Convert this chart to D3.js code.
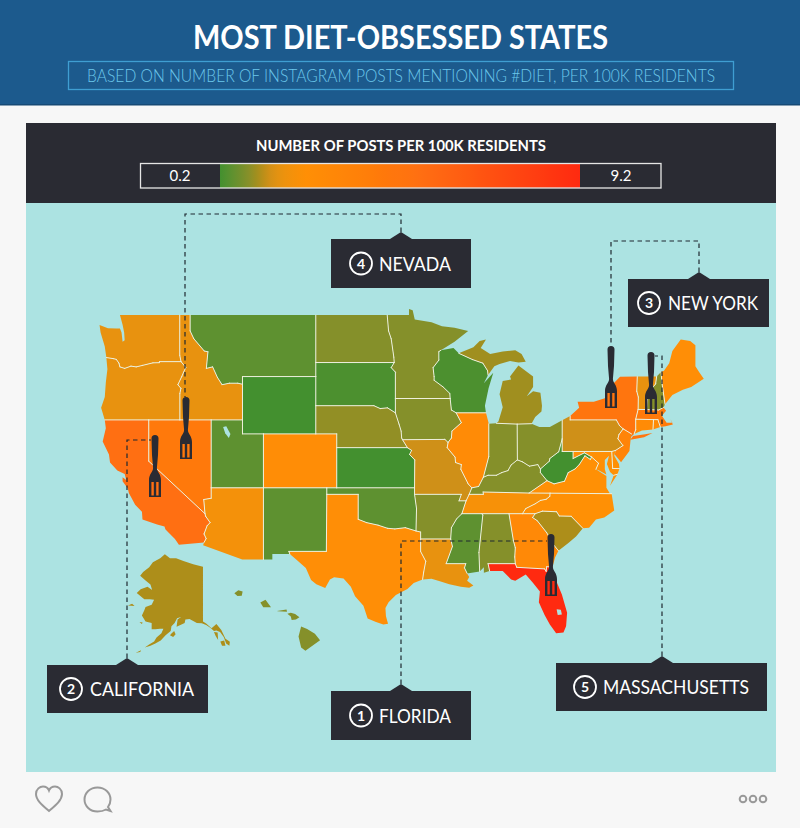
<!DOCTYPE html>
<html>
<head>
<meta charset="utf-8">
<title>Most diet-obsessed states</title>
<script src="https://cdn.jsdelivr.net/npm/d3@7"></script>
<style>
  html, body { margin: 0; padding: 0; background: #f7f7f7; }
  svg { display: block; }
  text { font-family: Lato, "Open Sans", sans-serif; }
</style>
</head>
<body>
<script>
// posts per 100k residents
const stateNames = ['WA','OR','ID','CA','NV','UT','AZ','NM','CO','WY','MT','ND','SD','NE','KS','OK','TX','MN','IA','MO','AR','LA','WI','IL','MI','IN','OH','KY','TN','MS','AL','GA','FL','SC','NC','VA','WV','MD','DE','PA','NJ','NY','CT','RI','MA','VT','NH','ME','AK','HI'];
const stateValues = [1.7,1.7,1.7,5.2,4.3,0.5,2.0,0.5,2.6,0.2,0.5,0.9,0.3,1.0,0.2,0.5,2.5,0.9,0.9,1.4,0.9,1.7,0.3,2.7,1.1,0.9,0.9,0.9,2.1,0.5,0.9,2.9,9.2,1.2,2.3,2.3,0.2,2.3,2.3,1.4,3.3,4.7,2.7,2.7,4.2,1.7,0.9,2.5,1.2,0.9];

const legendMin = 0.2;
const legendMax = 9.2;
const colorDomain = [0.2,0.5,0.9,1.2,1.4,1.7,2.3,4.2,5.2,9.2];
const colorRange = ['#43902f','#5e9130','#85902a','#ad8e1a','#cf9018','#e8920f','#ff9005','#ff7a0a','#ff6f12','#ff2a10'];

const calloutNames = ['FLORIDA','CALIFORNIA','NEW YORK','NEVADA','MASSACHUSETTS'];
const calloutRanks = [1,2,3,4,5];

// state outlines, [lon, lat], each state a list of rings
const WA = [[[-124.7,48.38],[-123.9,48.17],[-123.1,48.15],[-122.75,48.15],[-122.6,47.9],[-122.5,47.3],[-122.3,47.4],[-122.35,47.9],[-122.5,48.4],[-122.75,49],[-117.04,49],[-117.04,46.42],[-116.92,46],[-118.98,46],[-119,45.93],[-119.6,45.92],[-120.6,45.75],[-121.2,45.65],[-121.7,45.7],[-122.3,45.55],[-122.75,45.65],[-122.85,45.9],[-123.1,46.15],[-123.4,46.2],[-124.05,46.27],[-124.2,47],[-124.6,47.9]]];
const OR = [[[-124.05,46.27],[-123.4,46.2],[-123.1,46.15],[-122.85,45.9],[-122.75,45.65],[-122.3,45.55],[-121.7,45.7],[-121.2,45.65],[-120.6,45.75],[-119.6,45.92],[-119,45.93],[-118.98,46],[-116.92,46],[-116.46,45.61],[-116.67,45.3],[-116.85,45],[-117.22,44.45],[-116.93,44.2],[-117.03,43.85],[-117.03,42],[-124.2,42],[-124.55,42.85],[-124.2,43.6],[-124.1,44.6],[-123.95,45.5]]];
const ID = [[[-117.04,49],[-116.05,49],[-116.05,48],[-115.7,47.5],[-114.7,46.7],[-114.35,46.65],[-114.5,45.55],[-113.9,45.65],[-113.45,44.95],[-113,44.45],[-112.3,44.55],[-111.5,44.55],[-111.05,44.48],[-111.05,42],[-117.03,42],[-117.03,43.85],[-116.93,44.2],[-117.22,44.45],[-116.85,45],[-116.67,45.3],[-116.46,45.61],[-116.92,46],[-117.04,46.42]]];
const CA = [[[-124.2,42],[-120,42],[-120,39],[-114.63,35],[-114.57,34.8],[-114.14,34.3],[-114.43,34.05],[-114.72,33.4],[-114.52,33.03],[-114.72,32.72],[-117.12,32.53],[-117.5,33],[-118.4,33.75],[-118.5,34],[-119.2,34.15],[-120.6,34.55],[-120.65,35.15],[-121.3,35.7],[-121.9,36.6],[-122,36.95],[-122.5,37.5],[-122.5,37.8],[-122.15,37.6],[-122.3,38.05],[-123,38.3],[-123.7,38.9],[-123.8,39.5],[-124.4,40.45],[-124.1,41.4]]];
const NV = [[[-120,42],[-114.04,42],[-114.04,37],[-114.04,36.2],[-114.75,36.1],[-114.63,35],[-120,39]]];
const UT = [[[-114.04,42],[-111.05,42],[-111.05,41],[-109.05,41],[-109.05,37],[-114.04,37]]];
const AZ = [[[-114.04,37],[-109.05,37],[-109.05,31.33],[-111.07,31.33],[-114.81,32.5],[-114.72,32.72],[-114.52,33.03],[-114.72,33.4],[-114.43,34.05],[-114.14,34.3],[-114.57,34.8],[-114.63,35],[-114.75,36.1],[-114.04,36.2]]];
const NM = [[[-109.05,37],[-103,37],[-103,36.5],[-103.04,32],[-106.62,32],[-106.53,31.78],[-108.2,31.78],[-108.2,31.33],[-109.05,31.33]]];
const CO = [[[-109.05,41],[-102.05,41],[-102.05,37],[-109.05,37]]];
const WY = [[[-111.05,45],[-104.05,45],[-104.05,41],[-111.05,41]]];
const MT = [[[-116.05,49],[-104.05,49],[-104.05,45],[-111.05,45],[-111.05,44.48],[-111.5,44.55],[-112.3,44.55],[-113,44.45],[-113.45,44.95],[-113.9,45.65],[-114.5,45.55],[-114.35,46.65],[-114.7,46.7],[-115.7,47.5],[-116.05,48]]];
const ND = [[[-104.05,49],[-97.23,49],[-97.1,48],[-96.85,47.5],[-96.6,46.3],[-96.56,45.94],[-104.05,45.94]]];
const SD = [[[-104.05,45.94],[-96.56,45.94],[-96.85,45.6],[-96.45,45.3],[-96.45,43.5],[-96.45,42.5],[-97.2,42.85],[-97.9,42.8],[-98.5,43],[-104.05,43]]];
const NE = [[[-104.05,43],[-98.5,43],[-97.9,42.8],[-97.2,42.85],[-96.45,42.5],[-96.1,41.7],[-95.9,41.2],[-95.85,40.7],[-95.77,40.58],[-95.3,40],[-102.05,40],[-102.05,41],[-104.05,41]]];
const KS = [[[-102.05,40],[-95.3,40],[-94.9,39.8],[-95.1,39.5],[-94.6,39.1],[-94.62,37],[-102.05,37]]];
const OK = [[[-103,37],[-94.62,37],[-94.62,36.5],[-94.43,35.4],[-94.48,33.64],[-95.5,33.9],[-96.5,33.8],[-97.2,33.85],[-98.1,34.1],[-99.2,34.3],[-100,34.56],[-100,36.5],[-103,36.5]]];
const TX = [[[-103,36.5],[-100,36.5],[-100,34.56],[-99.2,34.3],[-98.1,34.1],[-97.2,33.85],[-96.5,33.8],[-95.5,33.9],[-94.48,33.64],[-94.04,33.55],[-94.04,33],[-94.04,31.99],[-93.55,31.2],[-93.75,30.3],[-93.85,29.7],[-94.7,29.4],[-95.3,28.9],[-96.4,28.4],[-97.1,27.8],[-97.4,27.3],[-97.35,26.6],[-97.15,25.96],[-97.6,25.9],[-98.3,26.1],[-99.1,26.4],[-99.5,27.5],[-100.3,28.3],[-100.7,29.1],[-101.4,29.77],[-102.3,29.88],[-102.7,29.7],[-103.15,28.98],[-104,29.3],[-104.5,29.65],[-105,30.65],[-106,31.4],[-106.53,31.78],[-106.62,32],[-103.04,32]]];
const MN = [[[-97.23,49],[-95.15,49],[-95.15,49.38],[-94.8,49.3],[-94.6,48.72],[-93,48.55],[-92,48.3],[-90.8,48.2],[-89.5,48],[-90.8,47.3],[-92.1,46.75],[-92.3,46.66],[-92.3,46.1],[-92.85,45.6],[-92.75,45],[-92.75,44.75],[-91.9,44.3],[-91.25,43.85],[-91.22,43.5],[-96.45,43.5],[-96.45,45.3],[-96.85,45.6],[-96.56,45.94],[-96.6,46.3],[-96.85,47.5],[-97.1,48]]];
const IA = [[[-96.45,43.5],[-91.22,43.5],[-91.1,42.7],[-90.65,42.5],[-90.15,41.8],[-91.05,41.2],[-91.1,40.7],[-91.42,40.38],[-91.72,40.6],[-95.77,40.58],[-95.85,40.7],[-95.9,41.2],[-96.1,41.7],[-96.45,42.5]]];
const MO = [[[-95.77,40.58],[-91.72,40.6],[-91.42,40.38],[-91.5,40],[-90.75,39.3],[-90.7,38.9],[-90.15,38.75],[-90.2,38.4],[-89.5,37.3],[-89.15,37],[-89.4,36.5],[-89.7,36],[-90.37,36],[-90.15,36.5],[-94.62,36.5],[-94.62,37],[-94.6,39.1],[-95.1,39.5],[-94.9,39.8],[-95.3,40]]];
const AR = [[[-94.62,36.5],[-90.15,36.5],[-90.37,36],[-89.7,36],[-90.1,35],[-90.6,34.6],[-91.1,33.9],[-91.17,33],[-94.04,33],[-94.04,33.55],[-94.48,33.64],[-94.43,35.4]]];
const LA = [[[-94.04,33],[-91.17,33],[-91,32.4],[-91.6,31],[-89.73,31],[-89.85,30.65],[-89.6,30.2],[-89.4,29.9],[-89.6,29.6],[-89,29.2],[-89.4,29],[-90.2,29.1],[-91.3,29.3],[-92.2,29.55],[-93,29.75],[-93.85,29.7],[-93.75,30.3],[-93.55,31.2],[-94.04,31.99]]];
const WI = [[[-92.1,46.75],[-90.9,46.9],[-90.4,46.55],[-89.1,46.14],[-88.1,45.9],[-87.65,45.4],[-87.6,45.1],[-88,44.55],[-87.1,45.25],[-87.55,44.2],[-87.9,43],[-87.8,42.5],[-90.65,42.5],[-91.1,42.7],[-91.22,43.5],[-91.25,43.85],[-91.9,44.3],[-92.75,44.75],[-92.75,45],[-92.85,45.6],[-92.3,46.1],[-92.3,46.66]]];
const IL = [[[-90.65,42.5],[-87.8,42.5],[-87.53,41.72],[-87.53,39.35],[-88.05,37.8],[-88.5,37.1],[-89.15,37],[-89.5,37.3],[-90.2,38.4],[-90.15,38.75],[-90.7,38.9],[-90.75,39.3],[-91.5,40],[-91.42,40.38],[-91.1,40.7],[-91.05,41.2],[-90.15,41.8]]];
const MI = [
  [[-90.4,46.55],[-89,46.95],[-88.4,47.35],[-87.8,47.45],[-88.3,46.9],[-87.4,46.5],[-86.2,46.67],[-85,46.75],[-84.4,46.5],[-84,46],[-84.7,45.95],[-85.5,46.05],[-86.5,45.85],[-87,45.7],[-87.6,45.1],[-87.65,45.4],[-88.1,45.9],[-89.1,46.14]],
  [[-86.8,41.76],[-84.82,41.7],[-83.45,41.73],[-83.1,42.2],[-82.5,42.6],[-82.45,43],[-82.6,43.9],[-83.3,44],[-83.9,43.65],[-83.3,44.3],[-83.3,45],[-84.7,45.75],[-85.5,45],[-85.4,44.8],[-86.2,44.7],[-86.5,43.8],[-86.2,42.9],[-86.6,41.9]]
];
const IN = [[[-87.53,41.72],[-86.8,41.76],[-84.82,41.7],[-84.8,39.1],[-85.4,38.72],[-85.7,38.3],[-86.3,38.15],[-86.8,37.95],[-87.6,37.95],[-88.05,37.8],[-87.53,39.35]]];
const OH = [[[-84.82,41.7],[-83.45,41.73],[-82.7,41.5],[-81.7,41.5],[-80.52,41.98],[-80.52,40.64],[-80.85,39.7],[-81.7,39.2],[-81.75,39],[-82.6,38.42],[-82.85,38.75],[-83.65,38.63],[-84.3,38.95],[-84.8,39.1]]];
const KY = [[[-89.4,36.5],[-89.15,37],[-88.5,37.1],[-88.05,37.8],[-87.6,37.95],[-86.8,37.95],[-86.3,38.15],[-85.7,38.3],[-85.4,38.72],[-84.8,39.1],[-84.3,38.95],[-83.65,38.63],[-82.85,38.75],[-82.6,38.42],[-82.6,38.15],[-81.97,37.54],[-83.68,36.6],[-88.07,36.68],[-88.05,36.5]]];
const TN = [[[-90.1,35],[-89.7,36],[-89.4,36.5],[-88.05,36.5],[-88.07,36.68],[-83.68,36.6],[-81.68,36.59],[-81.7,36.35],[-82.05,36.12],[-82.6,36.03],[-83.1,35.77],[-84,35.4],[-84.32,35],[-85.6,35],[-88.2,35]]];
const MS = [[[-91.17,33],[-91.1,33.9],[-90.6,34.6],[-90.1,35],[-88.2,35],[-88.1,34.9],[-88.47,31.9],[-88.4,30.35],[-89.6,30.2],[-89.85,30.65],[-89.73,31],[-91.6,31],[-91,32.4]]];
const AL = [[[-88.2,35],[-85.6,35],[-85.18,32.87],[-85,32.3],[-85.05,31.55],[-85,31],[-87.6,31],[-87.45,30.4],[-88,30.25],[-88,30.7],[-88.4,30.35],[-88.47,31.9],[-88.1,34.9]]];
const GA = [[[-85.6,35],[-83.1,35],[-83.35,34.7],[-82.9,34.45],[-82,33.5],[-81.4,32.6],[-80.88,32.05],[-81.2,31.5],[-81.45,30.72],[-82,30.75],[-82.05,30.36],[-82.2,30.57],[-84.86,30.7],[-85,31],[-85.05,31.55],[-85,32.3],[-85.18,32.87]]];
const FL = [[[-87.6,31],[-85,31],[-84.86,30.7],[-82.2,30.57],[-82.05,30.36],[-82,30.75],[-81.45,30.72],[-81.3,30],[-80.55,28.45],[-80.05,26.9],[-80.15,25.75],[-80.4,25.2],[-81.1,25.15],[-81.7,25.9],[-82.2,26.7],[-82.75,27.8],[-82.65,28.7],[-83.3,29.4],[-84,30.1],[-85,29.6],[-85.4,29.7],[-86.2,30.4],[-87.45,30.4]]];
const SC = [[[-83.1,35],[-82.4,35.2],[-81.05,35.15],[-80.8,34.82],[-79.67,34.8],[-78.55,33.85],[-79.2,33.2],[-79.9,32.7],[-80.88,32.05],[-81.4,32.6],[-82,33.5],[-82.9,34.45],[-83.35,34.7]]];
const NC = [[[-84.32,35],[-83.1,35],[-82.4,35.2],[-81.05,35.15],[-80.8,34.82],[-79.67,34.8],[-78.55,33.85],[-77.95,33.9],[-77.3,34.55],[-76.5,34.7],[-75.55,35.25],[-75.8,36.55],[-81.68,36.59],[-81.7,36.35],[-82.05,36.12],[-82.6,36.03],[-83.1,35.77],[-84,35.4]]];
const VA = [
  [[-83.68,36.6],[-81.97,37.54],[-81.3,37.3],[-80.3,37.5],[-79.95,38.15],[-79.3,38.42],[-78.87,38.77],[-78.35,39.4],[-77.83,39.13],[-77.72,39.32],[-77.05,38.85],[-77.3,38.4],[-76.3,37.9],[-76.3,37],[-75.95,36.55],[-75.8,36.55],[-81.68,36.59]],
  [[-75.95,37.15],[-75.24,38.03],[-75.6,37.95]]
];
const WV = [[[-81.97,37.54],[-82.6,38.15],[-82.6,38.42],[-81.75,39],[-81.7,39.2],[-80.85,39.7],[-80.52,40.64],[-80.52,39.72],[-79.48,39.72],[-79.48,39.2],[-78.4,39.62],[-77.72,39.32],[-77.83,39.13],[-78.35,39.4],[-78.87,38.77],[-79.3,38.42],[-79.95,38.15],[-80.3,37.5],[-81.3,37.3]]];
const MD = [[[-79.48,39.72],[-75.79,39.72],[-75.7,38.46],[-75.05,38.45],[-75.24,38.03],[-75.6,37.95],[-75.95,38.2],[-76.25,38.8],[-76.05,39.4],[-76.45,39.1],[-76.45,38.4],[-76.3,38],[-77,38.3],[-77.3,38.4],[-77.05,38.85],[-77.72,39.32],[-78.4,39.62],[-79.48,39.2]]];
const DE = [[[-75.79,39.72],[-75.42,39.8],[-75.55,39.4],[-75.1,38.8],[-75.05,38.45],[-75.7,38.46]]];
const PA = [[[-80.52,41.98],[-79.76,42.27],[-79.76,42],[-75.35,42],[-75.05,41.6],[-74.7,41.36],[-75.1,40.95],[-75.2,40.65],[-74.72,40.15],[-75.42,39.8],[-75.79,39.72],[-80.52,39.72],[-80.52,40.64]]];
const NJ = [[[-74.7,41.36],[-73.9,41],[-74,40.5],[-74.1,39.75],[-74.9,38.93],[-75.5,39.5],[-75.42,39.8],[-74.72,40.15],[-75.2,40.65],[-75.1,40.95]]];
const NY = [
  [[-79.76,42],[-79.76,42.27],[-78.9,42.85],[-79.05,43.27],[-77.5,43.27],[-76.3,43.55],[-76.2,44.1],[-75,44.98],[-73.35,45],[-73.4,44],[-73.25,43.6],[-73.27,42.74],[-73.5,42.05],[-73.5,41.3],[-73.65,41],[-74,40.75],[-73.9,41],[-74.7,41.36],[-75.05,41.6],[-75.35,42]],
  [[-74,40.6],[-73.75,40.85],[-72.6,40.98],[-71.9,41.07],[-72.7,40.75],[-74,40.58]]
];
const CT = [[[-73.5,42.05],[-71.8,42.02],[-71.85,41.32],[-72.9,41.25],[-73.65,41],[-73.5,41.3]]];
const RI = [[[-71.8,42.02],[-71.38,42.02],[-71.15,41.5],[-71.85,41.32]]];
const MA = [[[-73.5,42.05],[-73.27,42.74],[-72.46,42.73],[-71.3,42.7],[-70.85,42.88],[-70.6,42.65],[-71,42.3],[-70.55,41.8],[-70,41.8],[-70.2,42.07],[-69.95,41.67],[-70.65,41.55],[-71.15,41.5],[-71.38,42.02],[-71.8,42.02]]];
const VT = [[[-73.35,45],[-71.5,45.01],[-71.6,44.5],[-72.05,44.1],[-72.4,43.4],[-72.46,42.73],[-73.27,42.74],[-73.25,43.6],[-73.4,44]]];
const NH = [[[-71.5,45.01],[-71.08,45.3],[-71,44.6],[-70.7,43.1],[-70.85,42.88],[-71.3,42.7],[-72.46,42.73],[-72.4,43.4],[-72.05,44.1],[-71.6,44.5]]];
const ME = [[[-71.08,45.3],[-70.8,45.4],[-70.3,45.9],[-70,46.7],[-69.2,47.45],[-68.3,47.35],[-67.8,47.07],[-67.8,45.7],[-67.45,45.3],[-67,44.85],[-68.2,44.3],[-69,44.1],[-70,43.75],[-70.7,43.1],[-71,44.6]]];
const AK = [
  [[-141,69.65],[-141,60.3],[-139.7,59.9],[-137.5,58.9],[-135.5,59.8],[-133.5,58.5],[-131.8,56.6],[-130,55.9],[-130.2,55],[-131.5,55.5],[-132.5,57],[-134,58.1],[-135.5,58.4],[-136.5,58.3],[-138,59],[-139.7,59.55],[-141.5,59.95],[-143.5,60],[-145,60.4],[-146.5,60.8],[-148.2,60.7],[-148.5,60],[-149.8,59.7],[-151.8,59.2],[-151.4,60.7],[-150,61.2],[-151.6,60.95],[-152.6,60],[-153.9,59.3],[-154.2,58.3],[-156.3,57.4],[-158.3,56.2],[-160.5,55.5],[-162.5,55],[-164.8,54.6],[-163.2,55.2],[-161,56],[-160,56.9],[-158,57.8],[-157.2,58.8],[-158.6,58.8],[-160.5,58.7],[-162,58.7],[-162,60],[-164.5,60.3],[-166,61.5],[-165,62.5],[-164.5,63.1],[-162,63.5],[-161,64.4],[-162.7,64.5],[-165,64.5],[-168.1,65.6],[-166.5,66.2],[-163.7,66.6],[-161.8,66.1],[-162.5,67],[-164.5,67.6],[-166.7,68.35],[-165.5,68.9],[-163,69.6],[-161.5,70.3],[-158.5,70.85],[-156.6,71.35],[-154.5,70.85],[-152,70.85],[-149,70.45],[-145,70]],
  [[-154.5,57.4],[-153.2,57],[-152.2,57.6],[-152.8,58.3],[-154,57.7]],
  [[-171.7,63.4],[-169,63.3],[-170,63.7]],
  [[-167,60.2],[-165.7,60.1],[-166,59.8]],
  [[-136.5,58.1],[-135,58],[-134.8,56.3],[-135.8,57.2]],
  [[-133.9,56],[-132.3,56.2],[-131.8,55],[-133.2,55]],
  [[-168.5,53.3],[-166.3,53.9],[-166.7,53.5]]
];
const HI = [
  [[-159.78,22.05],[-159.55,22.22],[-159.3,22.15],[-159.35,21.92],[-159.6,21.9]],
  [[-158.27,21.55],[-157.97,21.7],[-157.65,21.3],[-158.1,21.3]],
  [[-157.3,21.1],[-156.75,21.17],[-156.72,21.05],[-157.25,21.08]],
  [[-156.7,20.95],[-156.5,21],[-156.25,20.93],[-156,20.75],[-156.2,20.63],[-156.45,20.6],[-156.5,20.8]],
  [[-155.9,20.25],[-155.55,20.12],[-155.1,19.85],[-154.8,19.5],[-155.65,18.92],[-155.9,19.1],[-156.05,19.7]]
];
const stateRings = {WA,OR,ID,CA,NV,UT,AZ,NM,CO,WY,MT,ND,SD,NE,KS,OK,TX,MN,IA,MO,AR,LA,WI,IL,MI,IN,OH,KY,TN,MS,AL,GA,FL,SC,NC,VA,WV,MD,DE,PA,NJ,NY,CT,RI,MA,VT,NH,ME,AK,HI};

// lakes cut out of the land
const saltLake = [[-112.9,41.5],[-112.6,41.55],[-112.2,41],[-112.35,40.7],[-112.7,41.05]];
const okeechobee = [[-81.05,27.2],[-80.65,27.15],[-80.55,26.75],[-80.95,26.7]];

const W = 800, H = 828;
const INK = '#2a2b33';
const TEAL = '#ace3e2';

const svg = d3.select('body').append('svg').attr('width', W).attr('height', H);
const defs = svg.append('defs');

// the three map frames are plain mercator, the lower 48 has straight parallels
const mainProj = d3.geoMercator().scale(600).translate([1405.4, 905.4]);
const akProj = d3.geoMercator().scale(140).translate([547.5, 807.3]);
const hiProj = d3.geoMercator().scale(986).translate([2984, 982.5]);
const projFor = s => s === 'AK' ? akProj : s === 'HI' ? hiProj : mainProj;

const color = d3.scaleLinear().domain(colorDomain).range(colorRange).clamp(true);
const ring = d3.line().curve(d3.curveLinearClosed);

// header
svg.append('rect').attr('width', W).attr('height', H).attr('fill', '#f7f7f7');
svg.append('rect').attr('width', W).attr('height', 105).attr('fill', '#1c5a8d');
svg.append('rect').attr('y', 104).attr('width', W).attr('height', 1.5).attr('fill', '#164a75');

svg.append('text').attr('x', 193).attr('y', 49).attr('textLength', 415).attr('lengthAdjust', 'spacingAndGlyphs')
  .attr('font-size', 32).attr('font-weight', 700).attr('fill', '#fff').text('MOST DIET-OBSESSED STATES');
svg.append('rect').attr('x', 68.5).attr('y', 61.5).attr('width', 665).attr('height', 28)
  .attr('fill', 'none').attr('stroke', '#3f9ed2').attr('stroke-width', 1.3);
svg.append('text').attr('x', 87).attr('y', 81.5).attr('textLength', 628).attr('lengthAdjust', 'spacingAndGlyphs')
  .attr('font-size', 17).attr('font-weight', 300).attr('fill', '#6cc8ec')
  .text('BASED ON NUMBER OF INSTAGRAM POSTS MENTIONING #DIET, PER 100K RESIDENTS');

// legend band
svg.append('rect').attr('x', 26).attr('y', 123).attr('width', 750).attr('height', 80).attr('fill', INK);
svg.append('text').attr('x', 256).attr('y', 151).attr('textLength', 290).attr('lengthAdjust', 'spacingAndGlyphs')
  .attr('font-size', 15).attr('font-weight', 700).attr('fill', '#fff').text('NUMBER OF POSTS PER 100K RESIDENTS');

const legendScale = d3.scaleLinear().domain([legendMin, legendMax]).range([220, 580]);
const legendGrad = defs.append('linearGradient').attr('id', 'legend');
d3.range(0, 1.001, 0.02).forEach(t => {
  legendGrad.append('stop').attr('offset', t)
    .attr('stop-color', color(legendMin + t * (legendMax - legendMin)));
});
svg.append('rect').attr('x', legendScale(legendMin)).attr('y', 163.5)
  .attr('width', legendScale(legendMax) - legendScale(legendMin)).attr('height', 24.5)
  .attr('fill', 'url(#legend)');
svg.append('rect').attr('x', 140.5).attr('y', 163.5).attr('width', 520.5).attr('height', 24.5)
  .attr('fill', 'none').attr('stroke', '#e6e6e6').attr('stroke-width', 1.3);
[[180, legendMin], [621, legendMax]].forEach(d => {
  svg.append('text').attr('x', d[0]).attr('y', 180.5).attr('text-anchor', 'middle')
    .attr('font-size', 15).attr('font-weight', 400).attr('fill', '#fff').text(d[1].toFixed(1));
});

// water
svg.append('rect').attr('x', 26).attr('y', 203).attr('width', 750).attr('height', 569).attr('fill', TEAL);

// states
const map = svg.append('g');
const pathFor = s => stateRings[s].map(r => ring(r.map(projFor(s)))).join('');
map.selectAll('path.state').data(stateNames).join('path')
  .attr('class', 'state')
  .attr('d', pathFor)
  .attr('fill', (s, i) => color(stateValues[i]));

map.selectAll('path.lake').data([saltLake, okeechobee]).join('path')
  .attr('class', 'lake')
  .attr('d', r => ring(r.map(mainProj)))
  .attr('fill', TEAL);

// inner borders only: a piece of edge used by two states is a border, one state only is coast
function innerBorders () {
  const lower = stateNames.filter(s => s !== 'AK' && s !== 'HI');
  const rings = lower.flatMap(s => stateRings[s]);
  const pts = rings.flat();
  const seen = new Map();
  rings.forEach(r => {
    r.forEach((a, i) => {
      const b = r[(i + 1) % r.length];
      const minX = Math.min(a[0], b[0]), maxX = Math.max(a[0], b[0]);
      const minY = Math.min(a[1], b[1]), maxY = Math.max(a[1], b[1]);
      const dx = b[0] - a[0], dy = b[1] - a[1];
      const len2 = dx * dx + dy * dy;
      const cuts = pts.filter(p => p[0] >= minX && p[0] <= maxX && p[1] >= minY && p[1] <= maxY
        && Math.abs((p[0] - a[0]) * dy - (p[1] - a[1]) * dx) < 1e-6);
      const pos = p => ((p[0] - a[0]) * dx + (p[1] - a[1]) * dy) / len2;
      const sorted = cuts.slice().sort((p, q) => pos(p) - pos(q));
      sorted.forEach((p, j) => {
        const q = sorted[j + 1];
        if (!q || (p[0] === q[0] && p[1] === q[1])) return;
        const k = [p.join(), q.join()].sort().join('|');
        if (!seen.has(k)) seen.set(k, { seg: [p, q], n: 0 });
        seen.get(k).n += 1;
      });
    });
  });
  return Array.from(seen.values()).filter(d => d.n > 1).map(d => d.seg);
}
const borderLine = d3.line();
map.append('path')
  .attr('d', innerBorders().map(seg => borderLine(seg.map(mainProj))).join(''))
  .attr('fill', 'none').attr('stroke', '#eef0dc').attr('stroke-width', 1).attr('stroke-linecap', 'round');

// callouts: leader line goes from the box tip to the top of the fork
const calloutLayout = [
  { box: [331, 691, 140, 49], tip: 401, ring: 361, text: [379, 72], leader: [[401, 541], [547, 541]] },
  { box: [47, 665, 161, 48], tip: 127, ring: 71, text: [90, 104], leader: [[127, 440], [151, 440]] },
  { box: [628, 279, 141, 48], tip: 699, ring: 649, text: [668, 90], leader: [[699, 241], [611, 241], [611, 346]] },
  { box: [331, 239, 140, 49], tip: 401, ring: 361, text: [379, 72], leader: [[401, 214], [185, 214], [185, 397]] },
  { box: [556, 663, 211, 48], tip: 662, ring: 585, text: [603, 146], leader: [[662, 356], [655, 356]] }
];
const forkTops = [[551, 534], [155, 435], [611, 346], [186, 397], [651, 352]];

const leaderLine = d3.line();
const leaders = svg.append('g');
const boxes = svg.append('g');
calloutNames.forEach((name, i) => {
  const c = calloutLayout[i];
  const [bx, by, bw, bh] = c.box;
  const tipY = by - 7;
  leaders.append('path')
    .attr('d', leaderLine([[c.tip, tipY]].concat(c.leader)))
    .attr('fill', 'none').attr('stroke', '#1f2830').attr('stroke-width', 1.2).attr('stroke-dasharray', '4.5 3.5');
  boxes.append('rect').attr('x', bx).attr('y', by).attr('width', bw).attr('height', bh).attr('fill', INK);
  boxes.append('path').attr('d', d3.line()([[c.tip - 11, by], [c.tip, tipY], [c.tip + 11, by]])).attr('fill', INK);
  const cy = by + bh / 2;
  boxes.append('circle').attr('cx', c.ring).attr('cy', cy).attr('r', 11).attr('fill', 'none')
    .attr('stroke', '#fff').attr('stroke-width', 1.8);
  boxes.append('text').attr('x', c.ring).attr('y', cy + 5).attr('text-anchor', 'middle')
    .attr('font-size', 14).attr('font-weight', 700).attr('fill', '#fff').text(calloutRanks[i]);
  boxes.append('text').attr('x', c.text[0]).attr('y', cy + 7).attr('textLength', c.text[1]).attr('lengthAdjust', 'spacingAndGlyphs')
    .attr('font-size', 20).attr('font-weight', 400).attr('fill', '#fff').text(name);
});

// forks
const forkPath = 'M-3.5,3.5 A3.5,3.5 0 0 1 3.5,3.5 L3,20 L1.9,33 C2,37 6,39 6,45 L6,62 L-6,62 L-6,45 C-6,39 -2,37 -1.9,33 L-3,20 Z'
  + ' M-3.6,47 L-1.2,47 L-1.2,60.5 L-3.6,60.5 Z M1.2,47 L3.6,47 L3.6,60.5 L1.2,60.5 Z';
svg.append('g').selectAll('path').data(forkTops).join('path')
  .attr('transform', d => `translate(${d[0]},${d[1]})`)
  .attr('d', forkPath).attr('fill', INK).attr('fill-rule', 'evenodd');

// bottom bar icons
const icons = svg.append('g').attr('fill', 'none').attr('stroke', '#999').attr('stroke-width', 2);
icons.append('path').attr('d', 'M49,811 C42,805 36,800 36,794 C36,789 40,786.5 43,786.5 C46,786.5 48,788 49,790.5 C50,788 52,786.5 55,786.5 C58,786.5 62,789 62,794 C62,800 56,805 49,811 Z');
icons.append('path').attr('d', 'M110.5,811 L106,809.5 C103.5,811 101,811.5 97.5,811.5 C90,811.5 84.5,806 84.5,799.5 C84.5,793 90,787.5 97.5,787.5 C105,787.5 110.5,793 110.5,799.5 C110.5,802.5 109.5,805 108,807 Z');
[743, 753, 763].forEach(x => icons.append('circle').attr('cx', x).attr('cy', 799).attr('r', 3.3));
</script>
</body>
</html>
